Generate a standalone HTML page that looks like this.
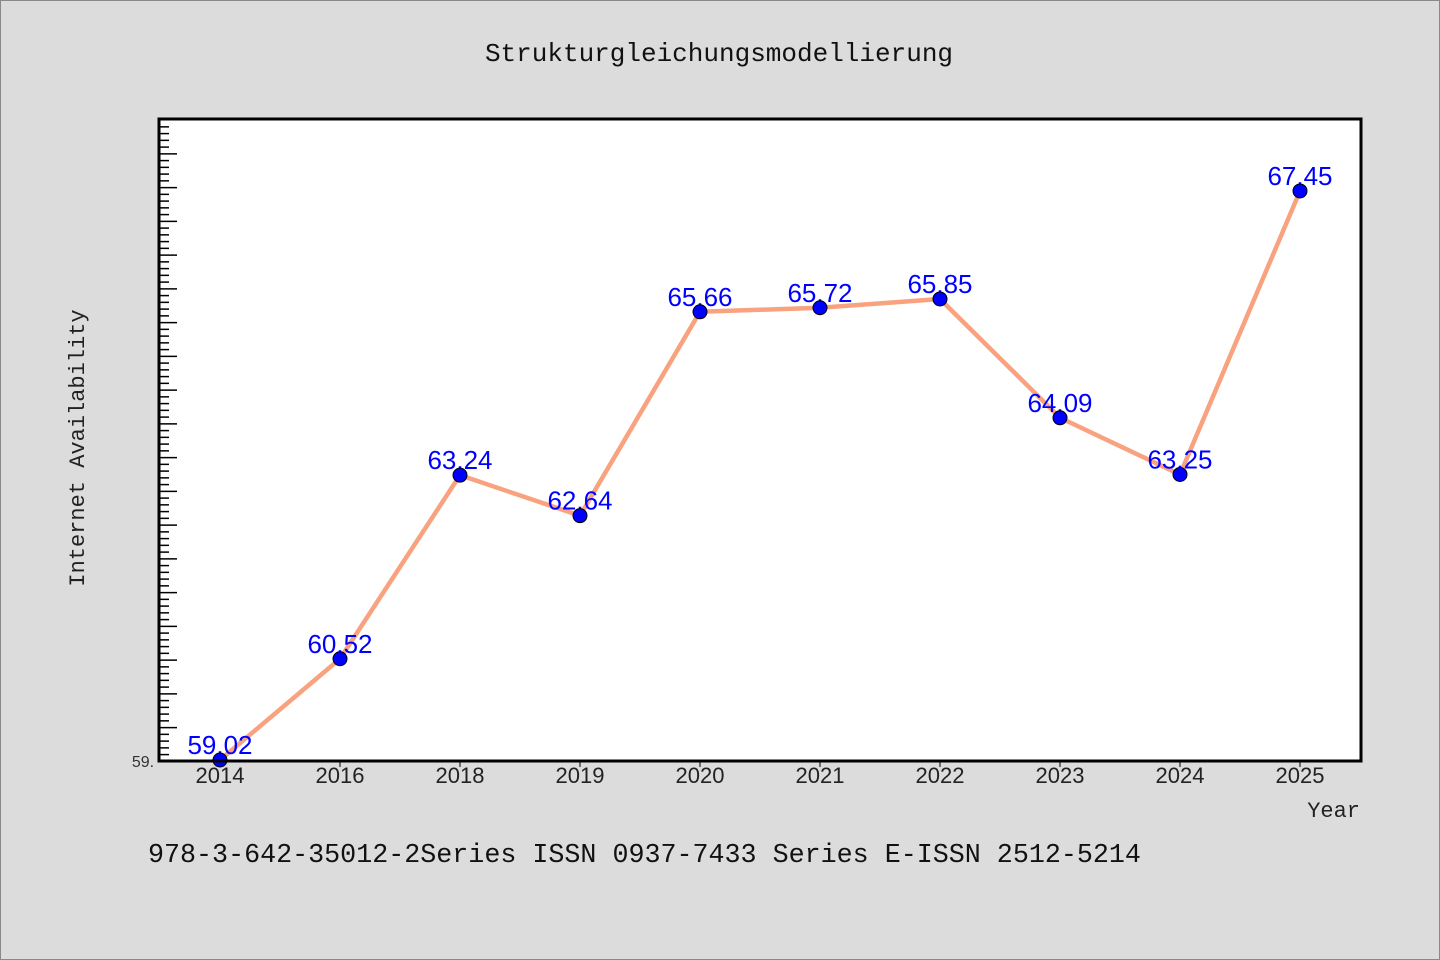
<!DOCTYPE html>
<html><head><meta charset="utf-8"><style>
html,body{margin:0;padding:0;background:#dcdcdc;}
svg{display:block;}
</style></head><body>
<svg width="1440" height="960" viewBox="0 0 1440 960" xmlns="http://www.w3.org/2000/svg" id="chart">
<rect x="0.5" y="0.5" width="1439" height="959" fill="#dcdcdc" stroke="#888"/>
<text x="719" y="61" text-anchor="middle" font-family="'WenQuanYi Zen Hei','Liberation Mono',monospace" font-size="26" fill="#111">Strukturgleichungsmodellierung</text>
<rect x="159" y="119" width="1202" height="642" fill="#fff"/>
<g id="yticks"></g>
<g id="xticks"></g>
<g id="series"></g>
<rect x="159" y="119" width="1202" height="642" fill="none" stroke="#000" stroke-width="3"/>
<text x="143" y="767" text-anchor="middle" font-family="'Liberation Sans',sans-serif" font-size="16" fill="#333">59.</text>
<text transform="translate(84,448) rotate(-90)" text-anchor="middle" font-family="'WenQuanYi Zen Hei','Liberation Mono',monospace" font-size="22" fill="#222">Internet Availability</text>
<text x="1360" y="817" text-anchor="end" font-family="'WenQuanYi Zen Hei','Liberation Mono',monospace" font-size="22" fill="#222">Year</text>
<text x="148" y="862" font-family="'WenQuanYi Zen Hei','Liberation Mono',monospace" font-size="26.7" fill="#111">978-3-642-35012-2Series ISSN 0937-7433 Series E-ISSN 2512-5214</text>
</svg>
<script>
const categories = ["2014","2016","2018","2019","2020","2021","2022","2023","2024","2025"];
const values = [59.02,60.52,63.24,62.64,65.66,65.72,65.85,64.09,63.25,67.45];
const labels = ["59.02","60.52","63.24","62.64","65.66","65.72","65.85","64.09","63.25","67.45"];
const yMin = 59.0, yMax = 68.5;
const NS = "http://www.w3.org/2000/svg";
const pLeft=159, pRight=1361, pTop=119, pBottom=761;
function xPos(i){ return 220 + i*(1300-220)/(categories.length-1); }
function yPos(v){ return 760 - (v - 59.02) * 67.5; }
function mk(tag, attrs, parent){ const e=document.createElementNS(NS,tag); for(const k in attrs) e.setAttribute(k,attrs[k]); parent.appendChild(e); return e; }
const yt=document.getElementById('yticks');
for(let k=0;k<200;k++){
  const v=yMin+k*0.1; const y=yPos(v);
  if(y<pTop+2) break;
  const major = k%5===0;
  const t=mk('line',{x1:pLeft,x2:pLeft+(major?18:10),y1:y,y2:y,stroke:'#000','stroke-width':1.5},yt);
  
  
}
const xt=document.getElementById('xticks');
categories.forEach((c,i)=>{
  const x=xPos(i);
  const t=mk('line',{x1:x,x2:x,y1:pBottom,y2:pBottom+6,stroke:'#000','stroke-width':1},xt);
  
  
  const l=mk('text',{x:x,y:783,'text-anchor':'middle','font-family':"'Liberation Sans',sans-serif",'font-size':22,fill:'#222'},xt);
  l.textContent=c;
  
  
});
const s=document.getElementById('series');
const pts=values.map((v,i)=>xPos(i)+','+yPos(v)).join(' ');
const line=mk('polyline',{points:pts,fill:'none',stroke:'#f9a27f','stroke-width':4.5,'stroke-linejoin':'round'},s);


values.forEach((v,i)=>{
  const t=mk('text',{x:xPos(i),y:yPos(v)-6,'text-anchor':'middle','font-family':"'Liberation Sans',sans-serif",'font-size':26,fill:'#0000ff'},s);
  t.textContent=labels[i];
  
  
});
values.forEach((v,i)=>{
  const c=mk('circle',{cx:xPos(i),cy:yPos(v),r:7,fill:'#0000ff',stroke:'#000','stroke-width':1},s);
  
  
});
</script>
</body></html>
